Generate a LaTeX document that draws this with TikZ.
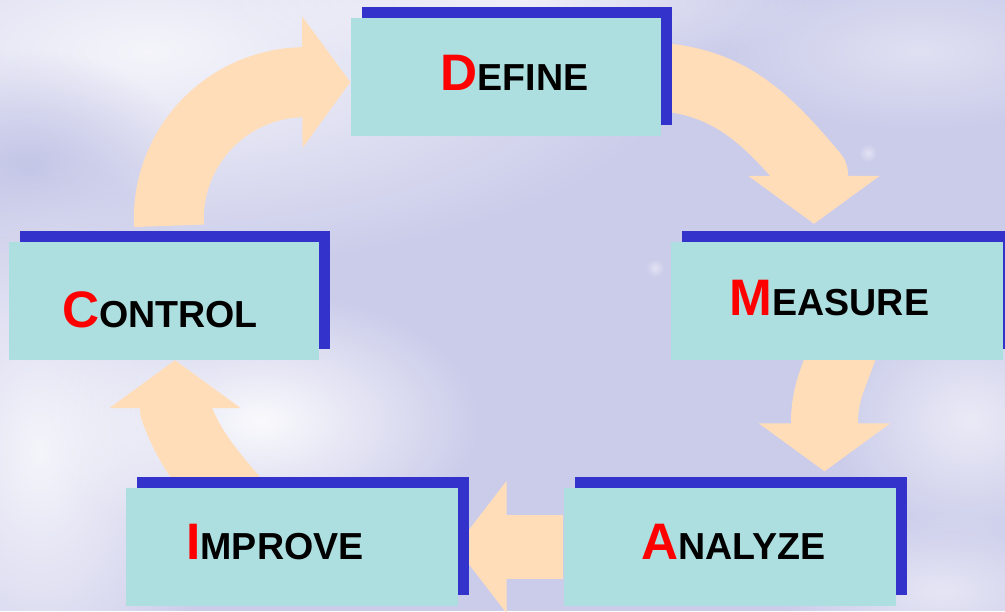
\documentclass[tikz,border=0pt]{standalone}
\usepackage{fontspec}
\setmainfont{Liberation Sans}
\usepackage{xcolor}
\usepackage{tikz}
\usetikzlibrary{arrows.meta, shadows, fadings}
\definecolor{boxteal}{RGB}{173,223,224}
\definecolor{boxblue}{RGB}{51,51,204}
\definecolor{arrowpeach}{RGB}{255,221,185}
\definecolor{skylav}{RGB}{203,204,234}
\definecolor{skydark}{RGB}{188,190,228}
\pgfdeclarelayer{sky}
\pgfdeclarelayer{flows}
\pgfsetlayers{sky,flows,main}
\tikzfading[name=haze, inner color=transparent!0, outer color=transparent!100]
\newcommand{\capletter}[1]{{\color{red}\fontsize{14.6}{16}\selectfont #1}}

\begin{document}
\begin{tikzpicture}[
    box/.style={rectangle, fill=boxteal, inner sep=0pt, minimum height=1.18cm,
        drop shadow={shadow xshift=1.1mm, shadow yshift=1.1mm, fill=boxblue, opacity=1}},
    word/.style={anchor=base, inner sep=0pt, font=\bfseries\fontsize{10.7}{13}\selectfont},
    flow/.style={draw=arrowpeach, line width=7mm, -{Triangle[width=13.1mm, length=4.8mm, line width=1pt]}},
    bent/.style={line cap=round, line join=round},
    cloud/.style={fill=white, path fading=haze}
]
    \useasboundingbox (0,0) rectangle (10.05,6.11);

    % Hazy sky behind everything
    \begin{pgfonlayer}{sky}
        \fill[skylav] (0,0) rectangle (10.05,6.11);
        \fill[cloud, opacity=0.8] (1.5,5.6) ellipse (5.4 and 2.2);
        \fill[skydark, path fading=haze, opacity=0.8] (0.3,4.4) ellipse (1.6 and 1.2);
        \fill[cloud, opacity=0.8] (0.4,1.6) ellipse (1.8 and 3.0);
        \fill[cloud, opacity=0.9] (2.6,1.9) ellipse (2.2 and 1.3);
        \fill[cloud, opacity=0.6] (5.2,6.1) ellipse (3.0 and 0.7);
        \fill[cloud, opacity=0.6] (9.7,1.9) ellipse (1.4 and 1.2);
        \fill[cloud, opacity=0.4] (9.2,5.6) ellipse (2.0 and 0.8);
        \fill[cloud, opacity=0.5] (9.4,0.2) ellipse (1.6 and 0.8);
        \fill[cloud, opacity=0.45] (6.55,3.43) circle (0.09);
        \fill[cloud, opacity=0.45] (8.68,4.58) circle (0.09);
    \end{pgfonlayer}

    % Steps of the cycle
    \node[box, minimum width=3.10cm] (define) at (5.06,5.34) {};
    \node[box, minimum width=3.32cm] (measure) at (8.37,3.105) {};
    \node[box, minimum width=3.32cm] (analyze) at (7.295,0.64) {};
    \node[box, minimum width=3.32cm] (improve) at (2.92,0.64) {};
    \node[box, minimum width=3.10cm] (control) at (1.64,3.105) {};

    \node[word] (define-word) at ([xshift=0.85mm, yshift=-1.3mm]define.center) {\capletter{D}EFINE};
    \node[word] (measure-word) at ([xshift=-0.75mm, yshift=-1.45mm]measure.center) {\capletter{M}EASURE};
    \node[word] (analyze-word) at ([xshift=0.4mm, yshift=-1.2mm]analyze.center) {\capletter{A}NALYZE};
    \node[word] (improve-word) at ([xshift=-1.7mm, yshift=-1.2mm]improve.center) {\capletter{I}MPROVE};
    \node[word] (control-word) at ([xshift=-0.4mm, yshift=-2.65mm]control.center) {\capletter{C}ONTROL};

    % Block arrows, kept under the boxes
    \begin{pgfonlayer}{flows}
        \draw[flow] ([xshift=0.5mm, yshift=1.5mm]control.north) arc[start angle=183, end angle=90, radius=13.65mm] -- ([yshift=-0.5mm]define.west);
        \draw[flow, bent, line width=6.8mm] (define.east) to[out=-5, in=130] ([xshift=-2.3mm, yshift=6.6mm]measure.north) -- ([xshift=-2.3mm, yshift=1.7mm]measure.north);
        \draw[flow, line width=6.7mm] ([xshift=1.2mm, yshift=3mm]measure.south) to[out=-103, in=90] ([xshift=9.5mm, yshift=6.5mm]analyze.north) -- ([xshift=9.5mm, yshift=1.6mm]analyze.north);
        \draw[flow, line width=6.4mm, -{Triangle[width=13.2mm, length=5.1mm, line width=1pt]}] (analyze.west) -- ([xshift=-0.3mm]improve.east);
        \draw[flow, bent] ([xshift=-5.4mm, yshift=-1.8mm]improve.north) to[out=130, in=-70] ([xshift=1.1mm, yshift=-4.9mm]control.south) -- ([xshift=1.1mm]control.south);
    \end{pgfonlayer}
\end{tikzpicture}
\end{document}
